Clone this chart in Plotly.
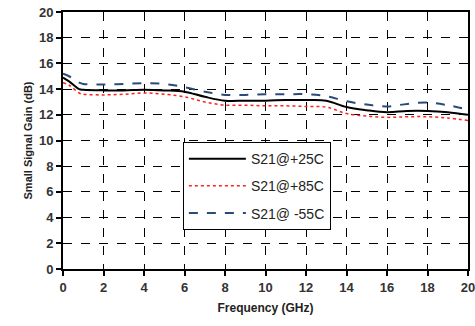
import plotly.graph_objects as go

freq_ghz = [0, 0.3, 0.8, 1, 2, 3, 4, 5, 6, 7, 8, 9, 10, 11, 12, 13, 14, 15, 16, 17, 18, 19, 20]
s21_p25 = [14.9, 14.6, 14.0, 13.95, 13.9, 13.9, 13.95, 13.9, 13.8, 13.4, 13.1, 13.1, 13.1, 13.15, 13.15, 13.1, 12.6, 12.35, 12.2, 12.3, 12.3, 12.2, 12.0]
s21_p85 = [14.5, 14.3, 13.7, 13.6, 13.55, 13.6, 13.7, 13.6, 13.4, 13.0, 12.75, 12.75, 12.7, 12.7, 12.65, 12.6, 12.1, 11.9, 11.8, 11.85, 11.85, 11.75, 11.55]
s21_m55 = [15.2, 15.0, 14.5, 14.4, 14.35, 14.4, 14.45, 14.4, 14.15, 13.8, 13.55, 13.55, 13.6, 13.6, 13.6, 13.45, 13.05, 12.8, 12.65, 12.85, 12.95, 12.75, 12.4]
series_names = ["S21@+25C", "S21@+85C", "S21@ -55C"]
x_ticks = list(range(0, 21, 2))
y_ticks = list(range(0, 21, 2))

fig = go.Figure()
fig.add_trace(go.Scatter(x=freq_ghz, y=s21_p25, name=series_names[0], mode="lines", legendgroup="a",
                         line=dict(color="black", width=2, shape="spline")))
fig.add_trace(go.Scatter(x=freq_ghz, y=s21_p85, name=series_names[1], mode="lines", legendgroup="b",
                         line=dict(color="#ff2020", width=1.5, dash="dot", shape="spline")))
fig.add_trace(go.Scatter(x=freq_ghz, y=s21_m55, name=series_names[2], mode="lines", legendgroup="c",
                         line=dict(color="#2a4a7a", width=2, dash="dash", shape="spline")))

font_main = "Liberation Sans, Arial, sans-serif"
axis_common = dict(
    showline=True, linecolor="black", linewidth=2, mirror=True,
    ticks="outside", ticklen=5, tickwidth=1.5, tickcolor="black",
    showgrid=True, gridcolor="black", gridwidth=1.3, griddash="dash",
    zeroline=False, automargin=False, ticklabeloverflow="allow",
    tickfont=dict(family=font_main, size=13, color="#333", weight="bold"),
)
fig.update_xaxes(range=[0, 20], tickvals=x_ticks,
                 title=dict(text="<b>Frequency (GHz)</b>", font=dict(family=font_main, size=12, color="#222"), standoff=10),
                 **axis_common)
fig.update_yaxes(range=[0, 20], tickvals=y_ticks,
                 title=dict(text="<b>Small Signal Gain (dB)</b>", font=dict(family=font_main, size=11, color="#222"), standoff=4),
                 **axis_common)

fig.update_layout(
    width=475, height=326,
    margin=dict(l=63, r=7, t=12, b=57),
    paper_bgcolor="white", plot_bgcolor="white",
    font=dict(family=font_main, size=12, color="#222"),
    legend=dict(x=0.296, y=0.494, xanchor="left", yanchor="top",
                bgcolor="white", bordercolor="black", borderwidth=1,
                font=dict(family=font_main, size=14, color="#222"),
                itemwidth=57, tracegroupgap=6),
    showlegend=True,
)

fig.write_html("out.html", config={"displayModeBar": False},
               post_script="document.body.style.margin='0';")
